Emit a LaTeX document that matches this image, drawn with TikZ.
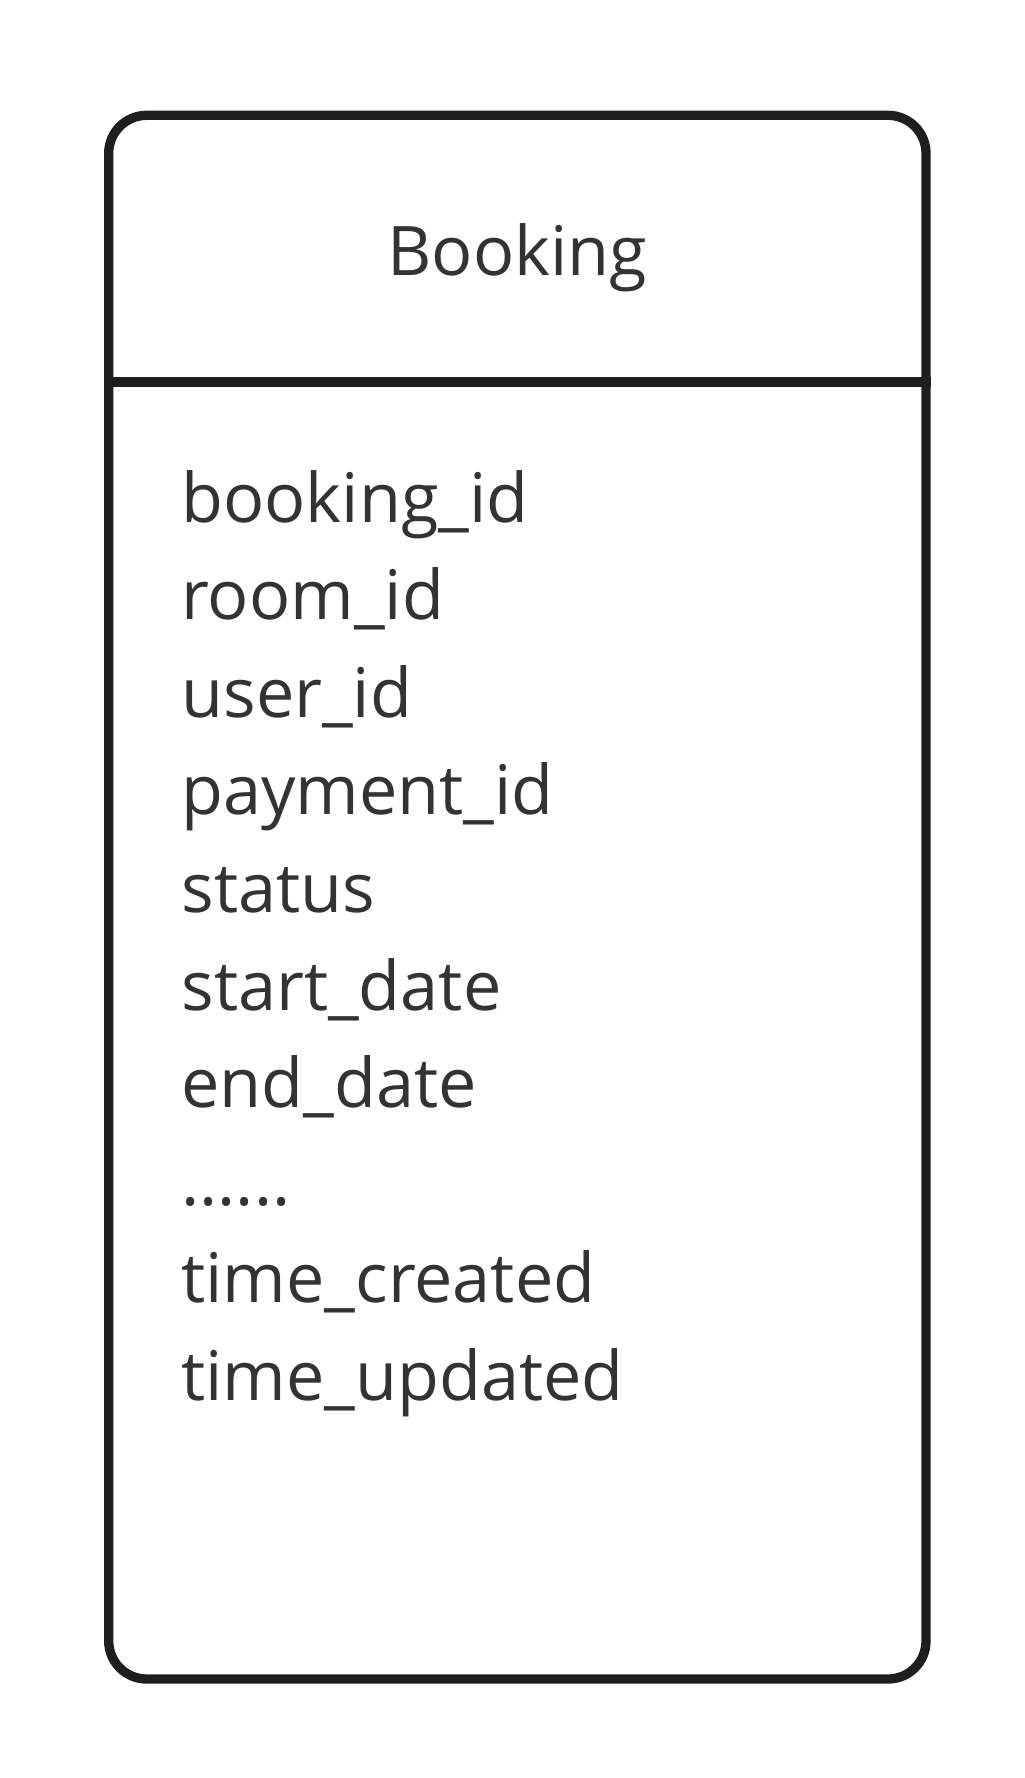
\documentclass[tikz,border=0pt]{standalone}
\usepackage{fontspec}
\setmainfont{Open Sans}
\definecolor{framegray}{HTML}{1E1E1E}
\definecolor{textgray}{HTML}{333333}
\tikzset{
	entity/.style={draw=framegray,line width=4.65pt,rounded corners=19pt,
		minimum width=408.65pt,minimum height=781.85pt,inner sep=0pt},
	rule/.style={draw=framegray,line width=4.65pt},
	label/.style={inner sep=0pt,text=textgray,font=\fontsize{34.2pt}{40pt}\selectfont}
}
\begin{document}
\begin{tikzpicture}[x=0.5pt,y=-0.5pt]
		\useasboundingbox (0,0) rectangle (1024,1778);
		\node[entity] (booking) at (517.35,897.15) {};
		\coordinate (divider) at (0,382);
		\draw[rule] (booking.west |- divider) -- (booking.east |- divider);
		\node[label,anchor=base] (name) at (517.35,275) {Booking};
		\node[label,anchor=base west] (bid) at (181,522) {booking\_id};
		\node[label,anchor=base west] (rid) at (181,619.6) {room\_id};
		\node[label,anchor=base west] (uid) at (181,717.2) {user\_id};
		\node[label,anchor=base west] (pid) at (181,814.8) {payment\_id};
		\node[label,anchor=base west] (st) at (181,912.4) {status};
		\node[label,anchor=base west] (sd) at (181,1010) {start\_date};
		\node[label,anchor=base west] (ed) at (181,1107.6) {end\_date};
		\node[label,anchor=base west] (more) at (181,1205.2) {......};
		\node[label,anchor=base west] (tc) at (181,1302.8) {time\_created};
		\node[label,anchor=base west] (tu) at (181,1400.4) {time\_updated};
	\end{tikzpicture}
\end{document}
